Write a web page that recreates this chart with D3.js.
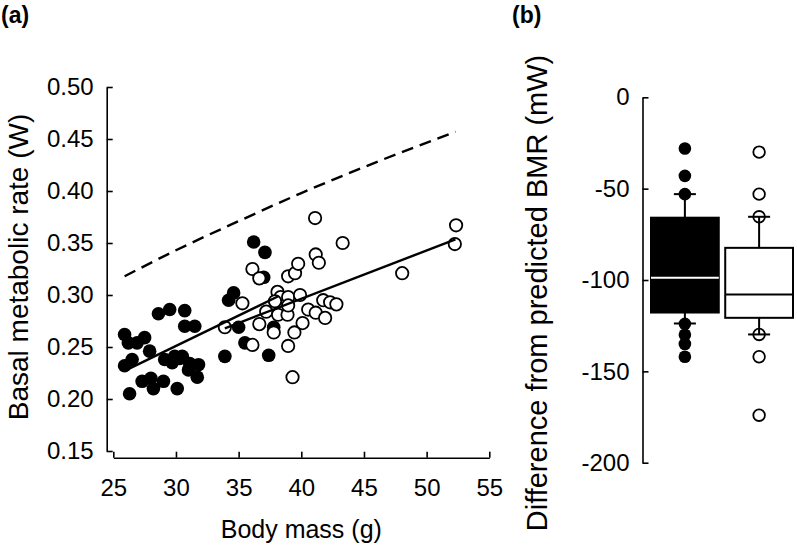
<!DOCTYPE html>
<html><head><meta charset="utf-8">
<script src="https://cdn.jsdelivr.net/npm/d3@7"></script>
<style>
body{margin:0;background:#fff;}
svg{display:block;}
text{font-family:"Liberation Sans",Arial,sans-serif;fill:#000;}
</style></head>
<body><svg id="c" width="797" height="546"></svg>
<script>
// ---------- Panel (a) data ----------
const blackMass = [25.9,26.2,25.9,26.5,26.3,26.9,27.5,27.9,27.3,28.0,28.2,29.0,28.6,29.5,30.7,30.7,31.5,29.1,29.7,30.3,30.1,31.0,31.8,31.7,33.9,34.2,34.6,35.0,36.2,37.1,37.0,35.5,37.4,37.8,29.9,30.5,31.1];
const blackBMR  = [0.262,0.254,0.232,0.238,0.205,0.254,0.259,0.246,0.217,0.220,0.210,0.217,0.282,0.286,0.285,0.270,0.270,0.238,0.235,0.239,0.210,0.228,0.233,0.221,0.241,0.295,0.302,0.269,0.351,0.341,0.317,0.254,0.242,0.269,0.241,0.241,0.234];
const openMass = [33.9,35.3,36.1,36.1,36.65,36.65,37.2,37.8,38.1,38.35,38.15,37.9,38.9,38.95,39.5,39.75,38.95,38.95,38.95,39.3,39.45,39.9,40.1,40.55,41.1,41.15,41.4,41.15,41.75,41.9,42.3,42.8,43.3,48.05,52.35,52.25];
const openBMR  = [0.269,0.292,0.252,0.325,0.316,0.272,0.284,0.264,0.303,0.298,0.281,0.294,0.281,0.318,0.321,0.330,0.298,0.290,0.251,0.221,0.264,0.300,0.273,0.286,0.374,0.339,0.331,0.283,0.295,0.278,0.293,0.291,0.350,0.321,0.367,0.349];
// fitted lines
const blackFitMass = [25.9,38.2];
const blackFitBMR  = [0.227,0.299];
const openFitMass  = [33.9,52.3];
const openFitBMR   = [0.268,0.3535];
const predMass = [25.9,30,35,40,45,52.3];
const predBMR  = [0.318,0.343,0.371,0.398,0.423,0.457];
const xTicksA = [25,30,35,40,45,50,55];
const yTicksA = [0.15,0.20,0.25,0.30,0.35,0.40,0.45,0.50];

// ---------- Panel (b) data ----------
const groups   = ["black","open"];
const q1       = [-117.8,-120.7];
const medians  = [-98.8,-107.9];
const q3       = [-65.9,-82.4];
const whiskLo  = [-123.8,-129.8];
const whiskHi  = [-53.0,-65.4];
const outliersBlack = [-28,-43,-53,-124,-130,-135,-142];
const outliersOpen  = [-30,-53,-65.4,-129.8,-142,-174];
const yTicksB = [0,-50,-100,-150,-200];

const svg = d3.select("#c");

// ===== Panel (a) =====
const xA = d3.scaleLinear().domain([25,55]).range([113.3,489.3]);
const yA = d3.scaleLinear().domain([0.15,0.5]).range([451,87]);
const gA = svg.append("g");

const yAxA = d3.axisLeft(yA).tickValues(yTicksA).tickFormat(d3.format(".2f"))
  .tickSizeInner(-6).tickSizeOuter(0).tickPadding(13);
const gy = gA.append("g").attr("transform","translate(106.7,0)").call(yAxA);
const xAxA = d3.axisBottom(xA).tickValues(xTicksA).tickFormat(d=>String(d))
  .tickSizeInner(-6).tickSizeOuter(0).tickPadding(21);
const gx = gA.append("g").attr("transform","translate(0,457.7)").call(xAxA);
[gy,gx].forEach(g=>{
  g.selectAll("path,line").attr("stroke","#000").attr("stroke-width",1.6);
  g.selectAll("text").style("font-size","24px").attr("fill","#000");
});

const line = d3.line().x(d=>xA(d[0])).y(d=>yA(d[1]));
gA.append("path").datum(d3.zip(predMass,predBMR)).attr("d",line.curve(d3.curveMonotoneX))
  .attr("fill","none").attr("stroke","#000").attr("stroke-width",2.4).attr("stroke-dasharray","12,7");

gA.append("g").selectAll("circle").data(d3.zip(blackMass,blackBMR)).join("circle")
  .attr("cx",d=>xA(d[0])).attr("cy",d=>yA(d[1])).attr("r",6.8).attr("fill","#000");
gA.append("g").selectAll("circle").data(d3.zip(openMass,openBMR)).join("circle")
  .attr("cx",d=>xA(d[0])).attr("cy",d=>yA(d[1])).attr("r",6.2)
  .attr("fill","#fff").attr("stroke","#000").attr("stroke-width",1.8);

const line2 = d3.line().x(d=>xA(d[0])).y(d=>yA(d[1]));
gA.append("path").datum(d3.zip(blackFitMass,blackFitBMR)).attr("d",line2)
  .attr("fill","none").attr("stroke","#000").attr("stroke-width",2.4);
gA.append("path").datum(d3.zip(openFitMass,openFitBMR)).attr("d",line2)
  .attr("fill","none").attr("stroke","#000").attr("stroke-width",2.4);

gA.append("text").attr("transform","translate(28,267) rotate(-90)")
  .attr("text-anchor","middle").style("font-size","28px").text("Basal metabolic rate (W)");
gA.append("text").attr("x",301.3).attr("y",538).attr("text-anchor","middle")
  .style("font-size","25px").text("Body mass (g)");
svg.append("text").attr("x",1).attr("y",23)
  .style("font-family","'Liberation Sans Narrow','Arial Narrow',sans-serif")
  .style("font-weight","bold").style("font-size","23px").text("(a)");

// ===== Panel (b) =====
const yB = d3.scaleLinear().domain([-200,0]).range([462.7,97.3]);
const xB = d3.scaleBand().domain(groups).range([650,794]).paddingInner(0.06).paddingOuter(0);
const gB = svg.append("g");
const yAxB = d3.axisLeft(yB).tickValues(yTicksB).tickFormat(d=>String(d))
  .tickSizeInner(-6).tickSizeOuter(0).tickPadding(13);
const gyb = gB.append("g").attr("transform","translate(642.5,0)").call(yAxB);
gyb.selectAll("path,line").attr("stroke","#000").attr("stroke-width",1.6);
gyb.selectAll("text").style("font-size","24px").attr("fill","#000");

const boxes = groups.map((g,i)=>({g,q1:q1[i],med:medians[i],q3:q3[i],lo:whiskLo[i],hi:whiskHi[i]}));
const bw = xB.bandwidth();
const cx = g=>xB(g)+bw/2;

// outlier points (drawn under whiskers)
gB.append("g").selectAll("circle").data(outliersBlack).join("circle")
  .attr("cx",cx("black")).attr("cy",d=>yB(d)).attr("r",6.3).attr("fill","#000");
gB.append("g").selectAll("circle").data(outliersOpen).join("circle")
  .attr("cx",cx("open")).attr("cy",d=>yB(d)).attr("r",5.8)
  .attr("fill","#fff").attr("stroke","#000").attr("stroke-width",1.8);

const bg = gB.append("g").selectAll("g").data(boxes).join("g");
bg.append("line").attr("x1",d=>cx(d.g)).attr("x2",d=>cx(d.g))
  .attr("y1",d=>yB(d.hi)).attr("y2",d=>yB(d.q3)).attr("stroke","#000").attr("stroke-width",2);
bg.append("line").attr("x1",d=>cx(d.g)).attr("x2",d=>cx(d.g))
  .attr("y1",d=>yB(d.lo)).attr("y2",d=>yB(d.q1)).attr("stroke","#000").attr("stroke-width",2);
bg.append("line").attr("x1",d=>cx(d.g)-11).attr("x2",d=>cx(d.g)+11)
  .attr("y1",d=>yB(d.hi)).attr("y2",d=>yB(d.hi)).attr("stroke","#000").attr("stroke-width",2);
bg.append("line").attr("x1",d=>cx(d.g)-11).attr("x2",d=>cx(d.g)+11)
  .attr("y1",d=>yB(d.lo)).attr("y2",d=>yB(d.lo)).attr("stroke","#000").attr("stroke-width",2);
bg.append("rect").attr("x",d=>xB(d.g)+1).attr("width",bw-2)
  .attr("y",d=>yB(d.q3)).attr("height",d=>yB(d.q1)-yB(d.q3))
  .attr("fill",d=>d.g==="black"?"#000":"#fff").attr("stroke","#000").attr("stroke-width",2);
bg.append("line").attr("x1",d=>xB(d.g)+1).attr("x2",d=>xB(d.g)+bw-1)
  .attr("y1",d=>yB(d.med)).attr("y2",d=>yB(d.med))
  .attr("stroke",d=>d.g==="black"?"#fff":"#000").attr("stroke-width",2);

gB.append("text").attr("transform","translate(547,293) rotate(-90)")
  .attr("text-anchor","middle").style("font-size","29px").text("Difference from predicted BMR (mW)");
svg.append("text").attr("x",512).attr("y",23)
  .style("font-family","'Liberation Sans Narrow','Arial Narrow',sans-serif")
  .style("font-weight","bold").style("font-size","23px").text("(b)");
</script></body></html>
